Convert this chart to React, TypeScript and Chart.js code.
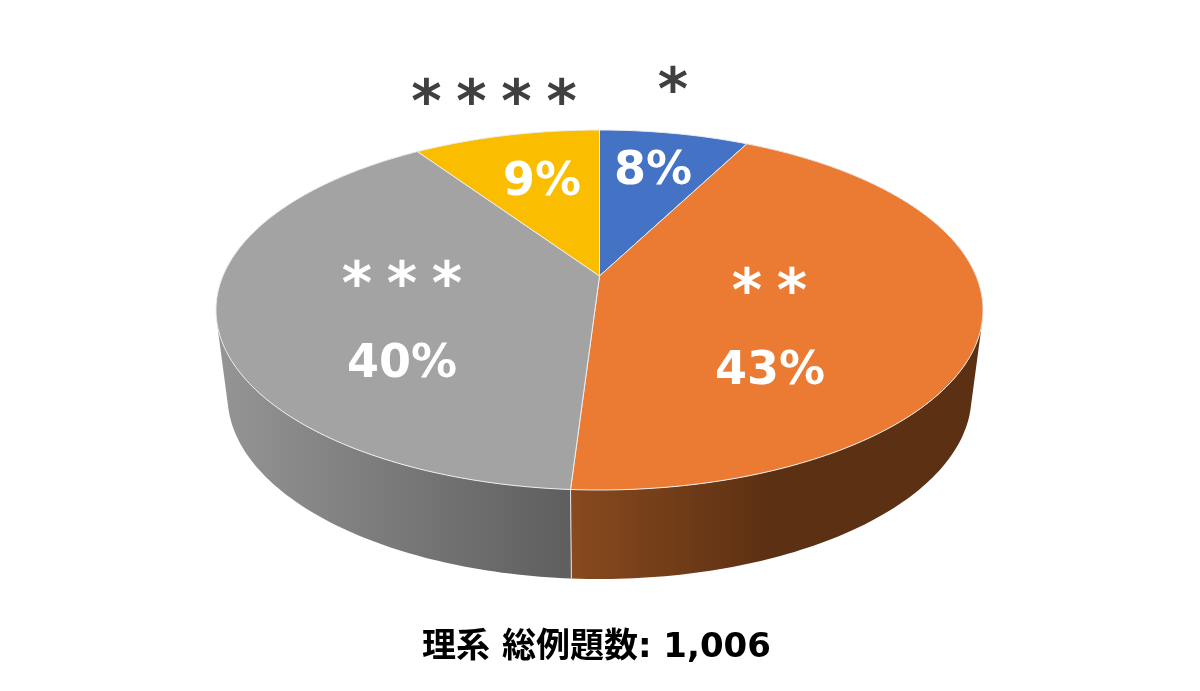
import React, { useEffect, useRef } from "react";
import { Chart, registerables } from "chart.js";

Chart.register(...registerables);

const categories = ["*", "**", "***", "****"];
const counts = [76, 437, 398, 95];
const sliceColors = ["#4472C4", "#EB7B32", "#A3A3A3", "#FBBD00"];
const titleText = "理系 総例題数: 1,006";

const TOP = { cx: 599.5, cy: 310, rx: 383.5, ry: 180 };
const BOTTOM = { cx: 599.5, cy: 396, rx: 372, ry: 183 };
const BOOST = -0.189;

const pctPos = [
  [653, 172],
  [770, 372],
  [402, 365],
  [542, 183],
];
const starPos = [
  [673, 94],
  [769.5, 295],
  [402, 288],
  [494, 106],
];
const starColors = ["#404040", "#FFFFFF", "#FFFFFF", "#404040"];
const wallStops: Record<number, [number, string][]> = {
  1: [
    [572, "#884A1E"],
    [770, "#5C3013"],
    [985, "#5C3013"],
  ],
  2: [
    [217, "#959595"],
    [572, "#5E5E5E"],
  ],
};

function project(e: typeof TOP, a: number): [number, number] {
  const u = Math.cos(a);
  const v = Math.sin(a);
  const d = 1 + BOOST * v;
  const s = Math.sqrt(1 - BOOST * BOOST);
  return [e.cx + (e.rx * s * u) / d, e.cy + (e.ry * (v + BOOST)) / d];
}

function samples(start: number, end: number): number[] {
  const n = Math.max(2, Math.ceil(((end - start) * 180) / Math.PI));
  const out: number[] = [];
  for (let i = 0; i <= n; i++) out.push(start + ((end - start) * i) / n);
  return out;
}

const pie3d = {
  id: "pie3d",
  beforeDatasetsDraw(chart: any) {
    const { ctx } = chart;
    const arcs = chart.getDatasetMeta(0).data;
    ctx.save();
    // walls: all sampled quads go in one path, so there are no seams between them
    arcs.forEach((arc: any, i: number) => {
      const stops = wallStops[i];
      if (!stops) return;
      const angs = samples(arc.startAngle, arc.endAngle);
      const g = ctx.createLinearGradient(stops[0][0], 0, stops[stops.length - 1][0], 0);
      const span = stops[stops.length - 1][0] - stops[0][0];
      stops.forEach(([x, c]) => g.addColorStop((x - stops[0][0]) / span, c));
      ctx.fillStyle = g;
      ctx.beginPath();
      for (let k = 0; k < angs.length - 1; k++) {
        const a = project(TOP, angs[k]);
        const b = project(TOP, angs[k + 1]);
        const c = project(BOTTOM, angs[k + 1]);
        const d = project(BOTTOM, angs[k]);
        const area =
          (b[0] - a[0]) * (c[1] - a[1]) - (b[1] - a[1]) * (c[0] - a[0]);
        ctx.moveTo(a[0], a[1]);
        if (area >= 0) {
          ctx.lineTo(b[0], b[1]);
          ctx.lineTo(c[0], c[1]);
          ctx.lineTo(d[0], d[1]);
        } else {
          ctx.lineTo(d[0], d[1]);
          ctx.lineTo(c[0], c[1]);
          ctx.lineTo(b[0], b[1]);
        }
        ctx.closePath();
      }
      ctx.fill();
    });
    // wall divider between the two front slices
    const div = arcs[1].endAngle;
    const d0 = project(TOP, div);
    const d1 = project(BOTTOM, div);
    ctx.beginPath();
    ctx.moveTo(d0[0], d0[1]);
    ctx.lineTo(d1[0], d1[1]);
    ctx.strokeStyle = "#E6E6E6";
    ctx.lineWidth = 1;
    ctx.stroke();
    // top faces
    arcs.forEach((arc: any) => {
      const angs = samples(arc.startAngle, arc.endAngle);
      ctx.beginPath();
      ctx.moveTo(TOP.cx, TOP.cy + TOP.ry * BOOST);
      angs.forEach((a) => {
        const p = project(TOP, a);
        ctx.lineTo(p[0], p[1]);
      });
      ctx.closePath();
      ctx.fillStyle = arc.options.backgroundColor;
      ctx.fill();
      ctx.strokeStyle = "#EDEDED";
      ctx.lineWidth = 1;
      ctx.stroke();
    });
    // labels
    const total = counts.reduce((a, b) => a + b, 0);
    ctx.textAlign = "center";
    ctx.textBaseline = "middle";
    counts.forEach((v, i) => {
      ctx.fillStyle = "#FFFFFF";
      ctx.font = 'bold 46px "DejaVu Sans"';
      ctx.letterSpacing = "0px";
      ctx.fillText(Math.round((v / total) * 100) + "%", pctPos[i][0], pctPos[i][1]);
      ctx.fillStyle = starColors[i];
      ctx.font = 'bold 58px "DejaVu Sans"';
      ctx.letterSpacing = "14.7px";
      ctx.fillText(categories[i], starPos[i][0] + 7.35, starPos[i][1]);
    });
    ctx.restore();
    return false;
  },
};

export default function App() {
  const ref = useRef<HTMLCanvasElement>(null);
  useEffect(() => {
    document.body.style.margin = "0";
    document.body.style.background = "#FFFFFF";
    const chart = new Chart(ref.current!, {
      type: "pie",
      data: {
        labels: categories,
        datasets: [{ data: counts, backgroundColor: sliceColors, borderColor: "#EDEDED", borderWidth: 1 }],
      },
      options: {
        responsive: false,
        animation: false,
        layout: { padding: { bottom: 22, right: 7 } },
        plugins: {
          legend: { display: false },
          tooltip: { enabled: false },
          title: {
            display: true,
            text: titleText,
            position: "bottom",
            color: "#000000",
            font: { family: '"DejaVu Sans", "Noto Sans CJK JP"', size: 34, weight: "bold" },
            padding: 0,
          },
        },
      },
      plugins: [pie3d as any],
    });
    return () => chart.destroy();
  }, []);
  return (
    <div style={{ width: 1200, height: 691 }}>
      <canvas ref={ref} width={1200} height={691} style={{ display: "block" }} />
    </div>
  );
}
